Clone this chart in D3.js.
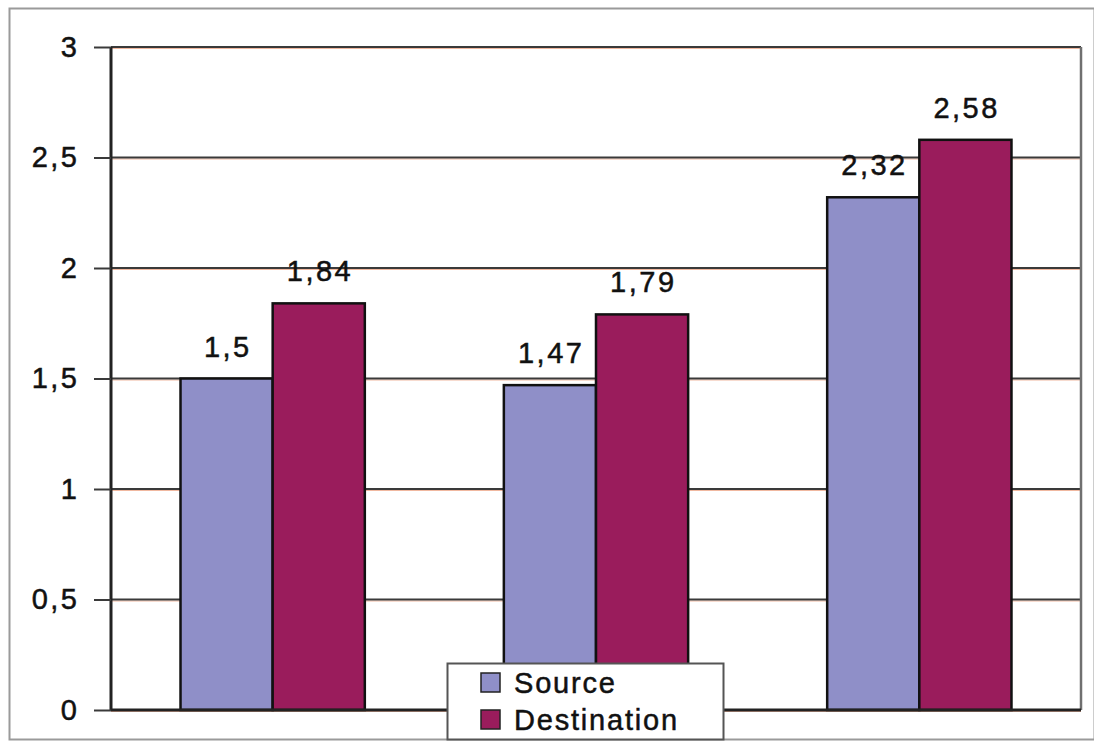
<!DOCTYPE html>
<html>
<head>
<meta charset="utf-8">
<script src="https://cdn.jsdelivr.net/npm/d3@7"></script>
<style>
  html, body { margin: 0; padding: 0; background: #fff; }
  svg { display: block; font-family: Arial, "Liberation Sans", sans-serif; }
  .lbl { font-size: 29px; letter-spacing: 2.5px; fill: #111; stroke: #111; stroke-width: 0.5px; }
</style>
</head>
<body>
<svg id="chart" width="1094" height="744"></svg>
<script>
// Grouped bar chart: Source vs Destination for three groups
const categories = ["A", "B", "C"];
const seriesNames = ["Source", "Destination"];
const sourceValues = [1.5, 1.47, 2.32];
const destinationValues = [1.84, 1.79, 2.58];
const valueLabels = [["1,5", "1,84"], ["1,47", "1,79"], ["2,32", "2,58"]];
const yTicks = [0, 0.5, 1, 1.5, 2, 2.5, 3];
const yTickLabels = ["0", "0,5", "1", "1,5", "2", "2,5", "3"];
const colors = ["#8f8fc8", "#9a1c5c"];

const svg = d3.select("#chart");
const margin = { left: 111, right: 13, top: 47, bottom: 34 };
const W = 1094, H = 744;
const x0 = margin.left, x1 = W - margin.right;
const yTop = margin.top, yBot = H - margin.bottom;

// outer frame
svg.append("rect")
  .attr("x", 9.5).attr("y", 8.5)
  .attr("width", W - 9).attr("height", 731)
  .attr("fill", "none").attr("stroke", "#9a9a9a").attr("stroke-width", 2);

const x = d3.scaleBand().domain(categories).range([x0, x1]).paddingInner(0.43).paddingOuter(0.215);
const xs = d3.scaleBand().domain(seriesNames).range([0, x.bandwidth()]);
const y = d3.scaleLinear().domain([0, 3]).range([yBot, yTop]);

// gridlines with faint warm fringe
const grid = svg.append("g");
yTicks.forEach(t => {
  grid.append("line").attr("x1", x0).attr("x2", x1)
    .attr("y1", y(t) + 1.5).attr("y2", y(t) + 1.5)
    .attr("stroke", "#f0b8a0").attr("stroke-width", 1.2);
  grid.append("line").attr("x1", x0).attr("x2", x1)
    .attr("y1", y(t)).attr("y2", y(t))
    .attr("stroke", "#3a3a3a").attr("stroke-width", 2);
});

// right border of plot area
svg.append("line").attr("x1", x1).attr("x2", x1).attr("y1", yTop).attr("y2", yBot)
  .attr("stroke", "#707070").attr("stroke-width", 2.5);

// bars
const data = categories.map((c, i) => ({
  cat: c,
  vals: [sourceValues[i], destinationValues[i]],
  labels: valueLabels[i]
}));

const groups = svg.append("g").selectAll("g").data(data).join("g")
  .attr("transform", d => `translate(${x(d.cat)},0)`);

groups.selectAll("rect").data(d => d.vals.map((v, j) => ({ v, j }))).join("rect")
  .attr("x", d => xs(seriesNames[d.j]))
  .attr("y", d => y(d.v))
  .attr("width", xs.bandwidth())
  .attr("height", d => y(0) - y(d.v))
  .attr("fill", d => colors[d.j])
  .attr("stroke", "#111").attr("stroke-width", 2.5);

// value labels (offset by half the trailing letter spacing to stay centred)
groups.selectAll("text").data(d => d.vals.map((v, j) => ({ v, j, label: d.labels[j] }))).join("text")
  .attr("class", "lbl")
  .attr("x", d => xs(seriesNames[d.j]) + xs.bandwidth() / 2 + 1.25)
  .attr("y", d => y(d.v) - 22)
  .attr("text-anchor", "middle")
  .text(d => d.label);

// y axis
const yAxis = d3.axisLeft(y).tickValues(yTicks)
  .tickFormat((d, i) => yTickLabels[i]).tickSize(17).tickPadding(14.5);
const ag = svg.append("g").attr("transform", `translate(${x0},0)`).call(yAxis);
ag.select(".domain").attr("stroke", "#222").attr("stroke-width", 3).attr("d", `M0,${yTop}V${yBot}`);
ag.selectAll(".tick line").attr("stroke", "#3a3a3a").attr("stroke-width", 2);
ag.selectAll(".tick text").attr("class", "lbl").attr("font-size", null)
  .attr("font-family", "Arial, 'Liberation Sans', sans-serif");

// x axis baseline
svg.append("line").attr("x1", x0).attr("x2", x1).attr("y1", yBot).attr("y2", yBot)
  .attr("stroke", "#222").attr("stroke-width", 3);

// legend
const lg = svg.append("g").attr("transform", "translate(447,663)");
lg.append("rect").attr("x", 0.5).attr("y", 0.5).attr("width", 276).attr("height", 76)
  .attr("fill", "#fff").attr("stroke", "#555").attr("stroke-width", 2);
seriesNames.forEach((s, i) => {
  lg.append("rect").attr("x", 34).attr("y", 10 + i * 37).attr("width", 19).attr("height", 19)
    .attr("fill", colors[i]).attr("stroke", "#222").attr("stroke-width", 1.5);
  lg.append("text").attr("class", "lbl").attr("x", 67).attr("y", 30 + i * 37)
    .style("letter-spacing", "1.8px").text(s);
});
</script>
</body>
</html>
